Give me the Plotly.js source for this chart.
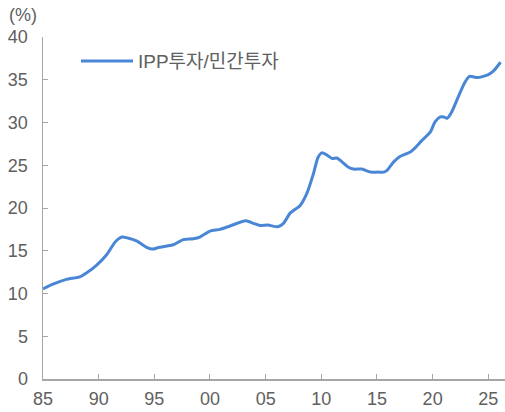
<!DOCTYPE html>
<html>
<head>
<meta charset="utf-8">
<script src="https://cdn.plot.ly/plotly-3.0.1.min.js"></script>
<style>html,body{margin:0;padding:0;background:#fff;}#chart{width:505px;height:412px;}</style>
</head>
<body>
<div id="chart"></div>
<script>
const seriesName = "IPP투자/민간투자";
const years = [1985.0,1985.9,1987.1,1988.3,1988.9,1989.8,1990.7,1991.5,1992.1,1992.6,1993.4,1994.3,1994.9,1995.3,1996.1,1996.7,1997.6,1998.5,1999.1,2000.0,2000.9,2001.8,2003.2,2003.9,2004.5,2005.2,2006.1,2006.6,2007.2,2008.1,2008.7,2009.3,2009.7,2010.05,2010.5,2010.95,2011.4,2011.85,2012.4,2012.9,2013.65,2014.4,2015.1,2015.6,2015.9,2016.5,2017.1,2018.0,2018.4,2019.0,2019.8,2020.2,2020.7,2021.0,2021.3,2021.7,2022.3,2022.9,2023.3,2024.0,2024.55,2025.0,2025.45,2026.1];
const ratio = [10.55,11.1,11.65,11.95,12.4,13.3,14.5,16.05,16.6,16.5,16.15,15.4,15.2,15.35,15.55,15.7,16.3,16.4,16.6,17.3,17.5,17.9,18.5,18.2,17.95,18.0,17.8,18.2,19.4,20.3,21.7,24.05,25.9,26.45,26.2,25.8,25.85,25.4,24.8,24.55,24.55,24.2,24.2,24.2,24.4,25.4,26.05,26.55,27.0,27.85,28.9,30.05,30.65,30.65,30.5,31.2,33.0,34.7,35.4,35.25,35.4,35.6,36.0,37.05];
const xTickVals = [1985,1990,1995,2000,2005,2010,2015,2020,2025];
const xTickText = ["85","90","95","00","05","10","15","20","25"];
const yTickVals = [0,5,10,15,20,25,30,35,40];
const unitLabel = "(%)";

const fontFam = "Liberation Sans, Noto Sans CJK KR, sans-serif";
const gray = "#606060";
const axisGray = "#A6A6A6";
const lineColor = "#4A86D6";
const plotW = 462, plotH = 342;
const px = v => (v - 43) / plotW;        // page x -> paper x
const py = v => (379 - v) / plotH;       // page y -> paper y

Plotly.newPlot("chart", [{
  x: years, y: ratio, type: "scatter", mode: "lines", name: seriesName,
  line: {color: lineColor, width: 3, shape: "spline", smoothing: 0.6}
}], {
  width: 505, height: 412,
  margin: {l: 43, r: 0, t: 37, b: 33},
  paper_bgcolor: "#fff", plot_bgcolor: "#fff",
  showlegend: false,
  xaxis: {range: [1985, 2026.5], tickvals: xTickVals, ticktext: xTickText,
    showgrid: false, zeroline: false, showline: true, linecolor: axisGray, linewidth: 1.5,
    ticks: "inside", ticklen: 5, tickcolor: axisGray, tickwidth: 1,
    ticklabelstandoff: 3,
    tickfont: {family: fontFam, size: 18, color: gray}},
  yaxis: {range: [0, 40], tickvals: yTickVals,
    showgrid: false, zeroline: false, showline: true, linecolor: axisGray, linewidth: 1.5,
    ticks: "inside", ticklen: 5, tickcolor: axisGray, tickwidth: 1,
    ticklabelstandoff: 10,
    tickfont: {family: fontFam, size: 18, color: gray}},
  shapes: [{type: "line", xref: "paper", yref: "paper",
    x0: px(81), x1: px(133), y0: py(61), y1: py(61),
    line: {color: lineColor, width: 3}}],
  annotations: [
    {text: unitLabel, xref: "paper", yref: "paper", x: px(7), y: py(15),
      xanchor: "left", yanchor: "middle", showarrow: false,
      font: {family: fontFam, size: 18, color: gray}},
    {text: seriesName, xref: "paper", yref: "paper", x: px(136), y: py(61),
      xanchor: "left", yanchor: "middle", showarrow: false,
      font: {family: fontFam, size: 19, color: gray}}
  ]
}, {displayModeBar: false, staticPlot: true});
</script>
</body>
</html>
